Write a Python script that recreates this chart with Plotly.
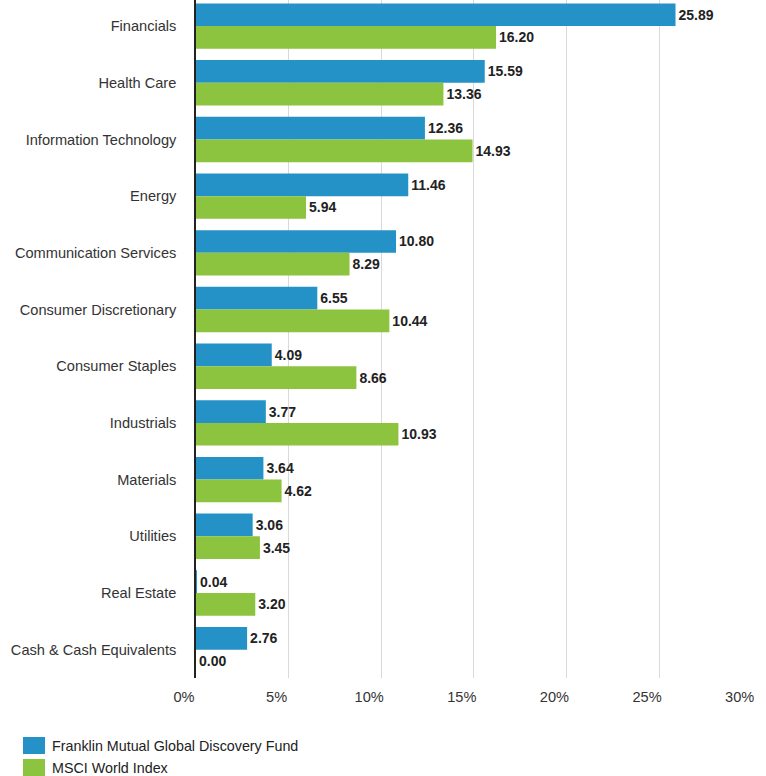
import plotly.graph_objects as go

categories = ["Financials", "Health Care", "Information Technology", "Energy",
              "Communication Services", "Consumer Discretionary", "Consumer Staples",
              "Industrials", "Materials", "Utilities", "Real Estate", "Cash & Cash Equivalents"]
fund_name = "Franklin Mutual Global Discovery Fund"
index_name = "MSCI World Index"
fund_values = [25.89, 15.59, 12.36, 11.46, 10.80, 6.55, 4.09, 3.77, 3.64, 3.06, 0.04, 2.76]
index_values = [16.20, 13.36, 14.93, 5.94, 8.29, 10.44, 8.66, 10.93, 4.62, 3.45, 3.20, 0.00]
x_ticks = [0, 5, 10, 15, 20, 25, 30]
x_tick_labels = ["0%", "5%", "10%", "15%", "20%", "25%", "30%"]

BLUE = "#2492c6"
GREEN = "#8cc33f"
FONT = "Liberation Sans, Arial, sans-serif"

fig = go.Figure()
for name, vals, col in [(fund_name, fund_values, BLUE), (index_name, index_values, GREEN)]:
    fig.add_trace(go.Bar(
        y=categories, x=vals, orientation="h", name=name,
        marker=dict(color=col, line=dict(width=0)),
        text=[f"{v:.2f}" for v in vals], textposition="outside",
        textfont=dict(family=FONT, size=14, color="#222222"),
        texttemplate="<b>%{text}</b>", cliponaxis=False,
        showlegend=False,
    ))

fig.update_layout(
    width=766, height=776,
    margin=dict(l=196, r=14, t=0, b=98, autoexpand=False),
    barmode="group", bargap=0.2, bargroupgap=0,
    plot_bgcolor="white", paper_bgcolor="white",
    font=dict(family=FONT, size=14.6, color="#333333"),
    xaxis=dict(range=[0, 30.02], tickvals=x_ticks, ticktext=x_tick_labels,
               showgrid=True, gridcolor="#d9d9d9", gridwidth=1,
               zeroline=False, showline=False, ticks="", automargin=False,
               ticklabelshift=-12, ticklabelstandoff=8,
               tickfont=dict(family=FONT, size=14.6, color="#333333")),
    yaxis=dict(categoryorder="array", categoryarray=categories, automargin=False,
               range=[11.5, -0.46], showline=True, linecolor="#222222", linewidth=1.5,
               ticks="", ticklabelstandoff=15, showgrid=False,
               tickfont=dict(family=FONT, size=14.6, color="#333333")),
)

# custom legend
for i, (name, col) in enumerate([(fund_name, BLUE), (index_name, GREEN)]):
    y0 = 737 + i * 22
    fig.add_shape(type="rect", xref="paper", yref="paper",
                  x0=(23 - 196) / 556, x1=(45 - 196) / 556,
                  y0=(776 - 98 - y0) / 678 - 17 / 678, y1=(776 - 98 - y0) / 678,
                  fillcolor=col, line=dict(width=0))
    fig.add_annotation(xref="paper", yref="paper", x=(50 - 196) / 556,
                       y=(776 - 98 - y0 - 8.5) / 678, text=name,
                       showarrow=False, xanchor="left", yanchor="middle",
                       font=dict(family=FONT, size=14.3, color="#222222"))

fig.write_html("out.html")
